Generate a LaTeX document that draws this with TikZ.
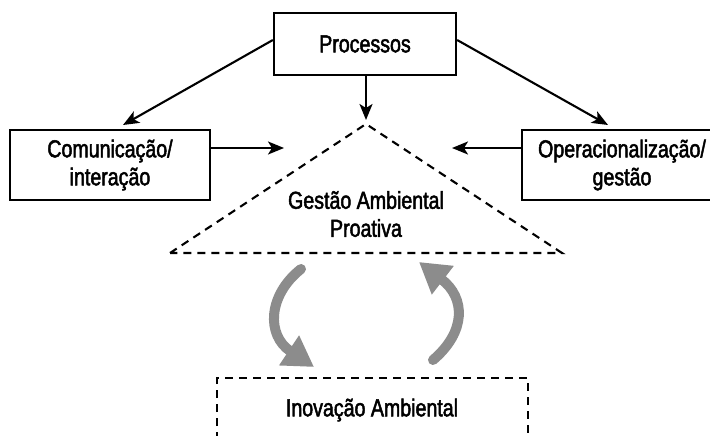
\documentclass[tikz,border=0pt]{standalone}
\usepackage{fontspec}
\setmainfont{Liberation Sans}[FakeStretch=0.8,FakeBold=2]
\usetikzlibrary{arrows.meta}
\begin{document}
\begin{tikzpicture}[x=1pt,y=-1pt,
  box/.style={draw=black,line width=2.3pt,fill=white,align=center,inner sep=0pt,font=\fontsize{24.5}{28}\selectfont},
  lbl/.style={align=center,inner sep=0pt,font=\fontsize{24.5}{28}\selectfont},
  arr/.style={line width=2.1pt,-{Stealth[length=16pt,width=13pt,inset=4pt]}},
  dsh/.style={line width=2.1pt,dash pattern=on 8pt off 6pt},
  cyc/.style={draw=black!45,line width=10pt,-{Triangle[length=30pt,width=34pt]}}]
\clip (0,0) rectangle (710,436);
\fill[white] (0,0) rectangle (710,436);
\node[box,minimum width=182pt,minimum height=62pt] (proc) at (365,44) {Processos};
\node[box,minimum width=200pt,minimum height=70pt] (com) at (110,165) {Comunica\c{c}\~ao/\\intera\c{c}\~ao};
\node[box,minimum width=200pt,minimum height=70pt] (ope) at (622,165) {Operacionaliza\c{c}\~ao/\\gest\~ao};
\coordinate (apex) at (366,124);
\coordinate (bl) at (170,253);
\coordinate (br) at (562,253);
\draw[dsh] (bl) -- (apex) -- (br) -- cycle;
\node[lbl] (gap) at (366,214) {Gest\~ao Ambiental\\Proativa};
\coordinate (lt) at (123,125);
\coordinate (rt) at (608,125);
\coordinate (ct) at (366,120);
\coordinate (cl) at (284,148);
\coordinate (cr) at (452,148);
\draw[arr] ([yshift=4pt]proc.west) -- (lt);
\draw[arr] ([yshift=4pt]proc.east) -- (rt);
\draw[arr] ([xshift=1pt]proc.south) -- (ct);
\draw[arr] ([yshift=17pt]com.east) -- (cl);
\draw[arr] ([yshift=17pt]ope.west) -- (cr);
\draw[dsh] (217,440) -- (217,378) -- (528,378) -- (528,440);
\node[lbl] (ino) at (372,410) {Inova\c{c}\~ao Ambiental};
\coordinate (a1s) at (301,269);
\coordinate (a1e) at (314,367);
\coordinate (a2s) at (433,360);
\coordinate (a2e) at (419,262);
\draw[cyc,line cap=round] (a1s) .. controls (268,295) and (266,335) .. (a1e);
\draw[cyc,line cap=round] (a2s) .. controls (466,332) and (466,298) .. (a2e);
\end{tikzpicture}
\end{document}
